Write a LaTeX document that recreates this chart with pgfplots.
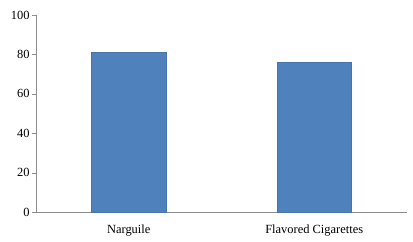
\documentclass[border=0pt]{standalone}
\usepackage{pgfplots}
\pgfplotsset{compat=1.18}
\usepackage{fontspec}
\setmainfont{Liberation Serif}
\definecolor{barblue}{HTML}{4F81BD}
\definecolor{axgray}{HTML}{8C8C8C}
\begin{document}
\begin{tikzpicture}
\begin{axis}[
  scale only axis,
  width=371bp, height=197bp,
  xmin=-0.5, xmax=1.5,
  ymin=0, ymax=100,
  ytick={0,20,40,60,80,100},
  xtick={0,1},
  xticklabels={Narguile, Flavored Cigarettes},
  x tick style={draw=none},
  extra x ticks={0.5,1.5},
  extra x tick labels={},
  extra x tick style={tick style={draw=axgray}, major tick length=4bp},
  axis x line=bottom, axis y line=left,
  axis line style={draw=axgray, -},
  y tick style={draw=axgray},
  major tick length=4bp,
  tick align=outside,
  ticklabel style={font=\fontsize{12.5}{14}\selectfont, text=black},
  /pgf/number format/assume math mode=true,
  xticklabel style={yshift=-5bp},
  yticklabel style={xshift=1bp},
  bar width=0.4,
]
\addplot[ybar, fill=barblue, draw=barblue!90!black] coordinates {(0,81) (1,76)};
\end{axis}
\path (current axis.south west) ++(-36bp,-30bp) (current axis.north east) ++(6bp,15bp);
\end{tikzpicture}
\end{document}
